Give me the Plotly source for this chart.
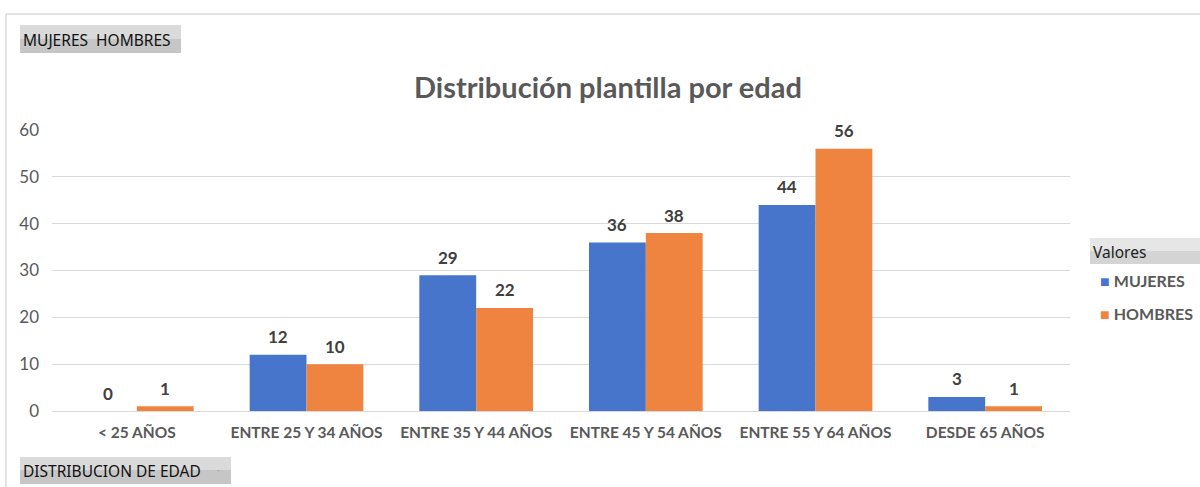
import plotly.graph_objects as go

categories = ["< 25 AÑOS", "ENTRE 25 Y 34 AÑOS", "ENTRE 35 Y 44 AÑOS",
              "ENTRE 45 Y 54 AÑOS", "ENTRE 55 Y 64 AÑOS", "DESDE 65 AÑOS"]
mujeres = [0, 12, 29, 36, 44, 3]
hombres = [1, 10, 22, 38, 56, 1]
series_names = ["MUJERES", "HOMBRES"]
series_colors = ["#4675CB", "#EF8440"]
y_ticks = [0, 10, 20, 30, 40, 50, 60]

W, H = 1200, 487
L, R, T, B = 52, 1070, 130, 411

def px(x):
    return (x - L) / (R - L)

def py(y):
    return (B - y) / (B - T)

FONT = "Lato"
GRAY = "#595959"
BARGAP = 0.33
cat_px = (R - L) / len(categories)
bar_px = cat_px * (1 - BARGAP) / 2

fig = go.Figure()
annotations = []
for k, (name, vals, col) in enumerate(zip(series_names, [mujeres, hombres], series_colors)):
    fig.add_trace(go.Bar(
        x=categories, y=vals, name=name, showlegend=False,
        marker=dict(color=col, line=dict(width=0)),
    ))
    shift = (k - 0.5) * bar_px
    for c, v in zip(categories, vals):
        annotations.append(dict(
            text=f"<b>{v}</b>", x=c, y=v, xref="x", yref="y",
            xshift=shift, yshift=18, xanchor="center", yanchor="middle",
            showarrow=False, font=dict(family=FONT, size=17, color="#404040")))

shapes = [
    # chart border (top and left)
    dict(type="line", xref="paper", yref="paper", x0=px(6), x1=px(1200), y0=py(14), y1=py(14),
         line=dict(color="#d9d9d9", width=1.5)),
    dict(type="line", xref="paper", yref="paper", x0=px(6), x1=px(6), y0=py(14), y1=py(487),
         line=dict(color="#d9d9d9", width=1.5)),
    # top button
    dict(type="rect", xref="paper", yref="paper", x0=px(20), x1=px(181), y0=py(25), y1=py(39),
         fillcolor="#dadada", line=dict(width=0), layer="below"),
    dict(type="rect", xref="paper", yref="paper", x0=px(20), x1=px(181), y0=py(39), y1=py(53),
         fillcolor="#c6c6c6", line=dict(width=0), layer="below"),
    # bottom button
    dict(type="rect", xref="paper", yref="paper", x0=px(20), x1=px(231), y0=py(457), y1=py(470),
         fillcolor="#dadada", line=dict(width=0), layer="below"),
    dict(type="rect", xref="paper", yref="paper", x0=px(20), x1=px(231), y0=py(470), y1=py(484),
         fillcolor="#c6c6c6", line=dict(width=0), layer="below"),
    # legend header
    dict(type="rect", xref="paper", yref="paper", x0=px(1090), x1=px(1200), y0=py(238), y1=py(251),
         fillcolor="#e6e6e6", line=dict(width=0), layer="below"),
    dict(type="rect", xref="paper", yref="paper", x0=px(1090), x1=px(1200), y0=py(251), y1=py(264),
         fillcolor="#d4d4d4", line=dict(width=0), layer="below"),
]

annotations += [
    dict(text="MUJERES  HOMBRES", xref="paper", yref="paper", x=px(21), y=py(40),
         xanchor="left", yanchor="middle", showarrow=False,
         font=dict(family="Noto Sans", size=15.5, color="#111111")),
    dict(text="DISTRIBUCION DE EDAD", xref="paper", yref="paper", x=px(21), y=py(471),
         xanchor="left", yanchor="middle", showarrow=False,
         font=dict(family="Noto Sans", size=15.5, color="#111111")),
    dict(text="·", xref="paper", yref="paper", x=px(218), y=py(470),
         xanchor="center", yanchor="middle", showarrow=False,
         font=dict(family="Noto Sans", size=10, color="#999999")),
    dict(text="Valores", xref="paper", yref="paper", x=px(1091), y=py(252),
         xanchor="left", yanchor="middle", showarrow=False,
         font=dict(family="Noto Sans", size=15.5, color="#222222")),
]
# legend entries
for i, (name, col) in enumerate(zip(series_names, series_colors)):
    yc = 280 + 33 * i
    annotations.append(dict(
        text=f"<span style='color:{col}'>■</span> <b>{name}</b>",
        xref="paper", yref="paper", x=px(1098), y=py(yc),
        xanchor="left", yanchor="middle", showarrow=False,
        font=dict(family=FONT, size=16, color=GRAY)))

fig.update_layout(
    width=W, height=H,
    margin=dict(l=L, r=W - R, t=T, b=H - B, autoexpand=False),
    paper_bgcolor="white", plot_bgcolor="white",
    title=dict(text="<b>Distribución plantilla por edad</b>", xref="container",
               x=608 / W, xanchor="center",
               y=1 - 88 / H, yanchor="middle",
               font=dict(family=FONT, size=29, color=GRAY)),
    barmode="group", bargap=BARGAP, bargroupgap=0,
    showlegend=False,
    xaxis=dict(showgrid=False, showline=False, ticks="",
               tickfont=dict(family=FONT, size=15.5, color=GRAY, weight="bold"),
               ticklabelstandoff=10),
    yaxis=dict(range=[0, 60], tickvals=y_ticks, showgrid=True, gridcolor="#d9d9d9",
               gridwidth=1, zeroline=True, zerolinecolor="#d9d9d9", zerolinewidth=1,
               tickfont=dict(family=FONT, size=17, color=GRAY), ticklabelstandoff=12),
    shapes=shapes, annotations=annotations,
)

fig.write_html("out.html", config={"displayModeBar": False},
               post_script="document.body.style.margin='0';")
